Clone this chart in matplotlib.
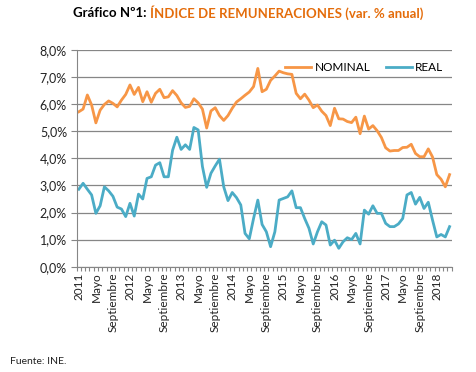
import matplotlib
matplotlib.use("Agg")
import matplotlib.pyplot as plt
from matplotlib.ticker import FuncFormatter, FixedLocator

plt.rcParams['font.family'] = ['Lato', 'DejaVu Sans']

# serie mensual ene-2011 .. abr-2018 (var. % anual)
nominal = [5.72, 5.82, 6.34, 5.97, 5.31, 5.78, 5.99, 6.12, 6.03, 5.90, 6.15, 6.36,
           6.71, 6.36, 6.62, 6.09, 6.46, 6.07, 6.40, 6.55, 6.24, 6.27, 6.50, 6.32,
           6.05, 5.88, 5.92, 6.20, 6.05, 5.82, 5.12, 5.75, 5.87, 5.58, 5.40, 5.58,
           5.85, 6.08, 6.20, 6.33, 6.45, 6.65, 7.32, 6.46, 6.55, 6.88, 7.04, 7.22,
           7.16, 7.12, 7.10, 6.40, 6.20, 6.37, 6.15, 5.87, 5.97, 5.74, 5.58, 5.21,
           5.85, 5.46, 5.45, 5.36, 5.32, 5.52, 4.91, 5.56, 5.08, 5.21, 5.02, 4.77,
           4.39, 4.27, 4.29, 4.29, 4.40, 4.41, 4.52, 4.18, 4.06, 4.06, 4.35, 4.05,
           3.40, 3.23, 2.95, 3.40]
real = [2.86, 3.08, 2.86, 2.65, 1.97, 2.25, 2.95, 2.80, 2.60, 2.20, 2.13, 1.85,
        2.34, 1.87, 2.68, 2.50, 3.26, 3.32, 3.75, 3.84, 3.32, 3.32, 4.30, 4.78,
        4.33, 4.50, 4.33, 5.14, 5.05, 3.70, 2.93, 3.45, 3.72, 3.97, 2.95, 2.44,
        2.74, 2.55, 2.28, 1.23, 1.03, 1.78, 2.46, 1.56, 1.29, 0.74, 1.29, 2.46,
        2.52, 2.58, 2.80, 2.18, 2.18, 1.78, 1.42, 0.84, 1.29, 1.66, 1.54, 0.80,
        0.98, 0.68, 0.92, 1.07, 1.00, 1.23, 0.84, 2.09, 1.94, 2.25, 1.97, 1.97,
        1.60, 1.48, 1.48, 1.58, 1.78, 2.65, 2.74, 2.31, 2.56, 2.15, 2.38, 1.72,
        1.10, 1.19, 1.10, 1.48]
years = ['2011', '2012', '2013', '2014', '2015', '2016', '2017', '2018']
month_labels = ['Mayo', 'Septiembre']

orange = '#F79646'
blue = '#4BACC6'
grid_c = '#868686'

n = len(nominal)
x = list(range(n))

# etiquetas cada 4 meses: año, Mayo, Septiembre
tick_pos = []
tick_lab = []
for k in range(0, n, 4):
    tick_pos.append(k)
    if k % 12 == 0:
        tick_lab.append(years[k // 12])
    else:
        tick_lab.append(month_labels[(k % 12) // 4 - 1])

fig = plt.figure(figsize=(4.77, 3.72), dpi=100)
ax = fig.add_axes([0.1608, 0.283, 0.947 - 0.1608, 0.8656 - 0.283])

ax.plot(x, nominal, color=orange, lw=2.0, label='NOMINAL', solid_joinstyle='round')
ax.plot(x, real, color=blue, lw=2.0, label='REAL', solid_joinstyle='round')

ax.set_ylim(0, 8)
ax.set_xlim(-0.5, n - 0.5)
ax.set_yticks([0, 1, 2, 3, 4, 5, 6, 7, 8])
ax.yaxis.set_major_formatter(FuncFormatter(lambda v, p: ('%.1f' % v).replace('.', ',') + '%'))
ax.yaxis.grid(True, color=grid_c, lw=0.9)
ax.set_axisbelow(True)

ax.set_xticks(tick_pos)
ax.set_xticklabels(tick_lab, rotation=90, fontsize=8.5, color='#222222')
ax.xaxis.set_minor_locator(FixedLocator([k - 0.5 for k in range(n + 1)]))
ax.tick_params(axis='x', which='major', length=0, pad=4)
ax.tick_params(axis='x', which='minor', length=3, color=grid_c, width=0.8)
ax.tick_params(axis='y', length=4, color=grid_c, labelsize=9, labelcolor='#222222', pad=3)

for s in ['top', 'right']:
    ax.spines[s].set_visible(False)
ax.spines['left'].set_color(grid_c)
ax.spines['bottom'].set_color(grid_c)

ax.legend(loc='center right', bbox_to_anchor=(1.0, 0.92), ncol=2, frameon=False,
          fontsize=8.5, handlelength=2.2, columnspacing=1.3, handletextpad=0.3,
          borderaxespad=0.3)

# titulo en dos colores
r = fig.canvas.get_renderer()
t1 = fig.text(0.153, 0.965, 'Gráfico Nº1: ', fontsize=9.5, fontweight='bold', color='black',
              ha='left', va='center')
bb = t1.get_window_extent(renderer=r)
fig.text(bb.x1 / fig.bbox.width, 0.965, 'ÍNDICE DE REMUNERACIONES (var. % anual)', fontsize=9.5,
         fontweight='bold', color='#E46C0A', ha='left', va='center')

fig.text(0.021, 0.027, 'Fuente: INE.', fontsize=7.5, color='#222222', ha='left', va='center')

fig.savefig('out.png', dpi=100)
